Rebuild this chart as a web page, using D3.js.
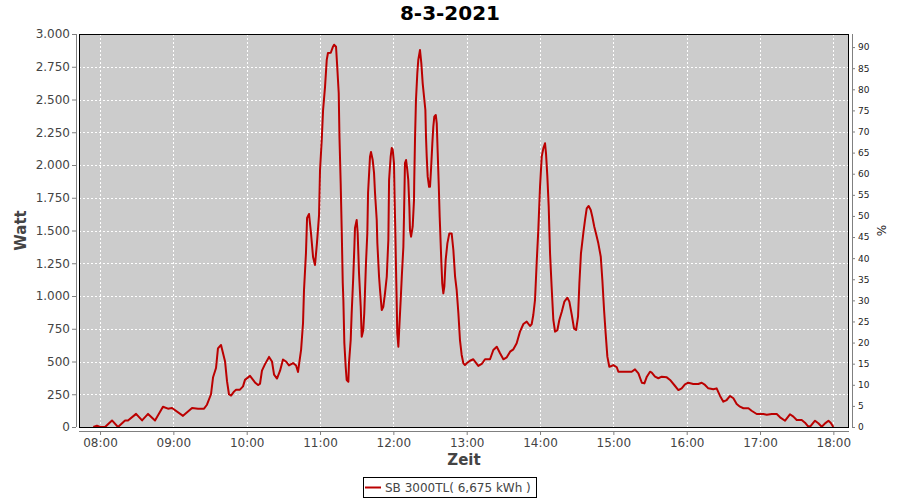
<!DOCTYPE html>
<html>
<head>
<meta charset="utf-8">
<script src="https://cdn.jsdelivr.net/npm/d3@7"></script>
<style>
  html, body { margin: 0; padding: 0; background: #fff; }
  svg { display: block; font-family: "DejaVu Sans", sans-serif; }
</style>
</head>
<body>
<svg id="chart" width="900" height="500"></svg>
<script>
// ---- data ----
const title = "8-3-2021";
const seriesName = "SB 3000TL( 6,675 kWh )";
const baseHour = 8; // times are minutes after 08:00
const timeMinutes = [
  -5.5, -2.5, 0, 4.1, 9.8, 14.7, 20.5, 22.9, 29.5, 34.4, 39.3, 45, 51.5, 55.6, 58.9, 67.9, 75.3, 80.2, 85.1, 87.5,
  90.8, 92.5, 94.9, 96.5, 99, 102.3, 103.9, 105.5, 107.2, 109.6, 111.3, 114.5, 117, 118.6, 122.7, 126.8, 129.3, 130.9, 132.5, 135,
  138.3, 140.7, 142.4, 144.8, 147.3, 149.7, 152.2, 154.6, 157.9, 160.4, 162, 164.5, 166.1, 166.9, 168.5, 169.4, 171, 172.6, 174.3, 175.9,
  177.5, 179.2, 180, 181.4, 182.5, 184.1, 185.5, 186.5, 188.8, 190.6, 191.5, 193.1, 193.9, 195.3, 195.9, 196.9, 197.8, 198.6, 199.1, 199.9,
  201, 201.8, 203.2, 203.7, 205.1, 205.9, 207.2, 208.1, 208.6, 210, 210.8, 211.9, 213.3, 214.1, 215.4, 216.2, 217.6, 218.7, 219.3, 220.9,
  221.7, 223.1, 224.2, 225, 226.4, 226.9, 228.3, 229.1, 230.5, 231.8, 233.2, 234.6, 235.9, 236.5, 237.8, 238.7, 239.5, 240.5, 241.1, 241.6,
  242.2, 242.7, 243.2, 244.1, 244.9, 246, 246.9, 248.2, 248.7, 249.5, 250.4, 251.4, 252.2, 253.1, 253.6, 254.5, 255.8, 256.9, 257.1, 257.7,
  258.5, 259.6, 260.4, 261.8, 262.9, 264, 265.1, 266.2, 266.7, 267.3, 268.1, 269.2, 270, 270.8, 271.9, 272.7, 273.5, 274.7, 275.5, 276.3,
  277.1, 277.9, 278.4, 279.2, 280, 280.9, 281.7, 282.8, 284.2, 285.8, 287.7, 289.1, 290.5, 291.8, 293.2, 294.5, 295.9, 297.3, 298.6, 300,
  302.7, 305.4, 309.5, 312.3, 315, 319.1, 321.8, 324.6, 327.3, 330, 332.8, 335.5, 338.2, 340.9, 343.6, 346.4, 349.1, 351.8, 353.2, 354.5,
  355.9, 357.3, 358.6, 360, 361.4, 362.7, 364.1, 364.9, 366, 367.1, 368.2, 369.5, 370.9, 372.3, 374.2, 375.8, 377.8, 379.9, 382.4, 384,
  386, 387.8, 389.5, 391.1, 392.2, 393.5, 395.4, 396.8, 398.2, 399.8, 401.5, 402.8, 404.4, 405.8, 407.7, 409.7, 411, 412.4, 413.7, 415.1,
  416.7, 418.6, 420, 422.8, 424.1, 435, 437.7, 440.5, 443.3, 445.4, 447.4, 450, 451.4, 454.1, 456.8, 459.6, 463.7, 466.4, 470.5, 473.2,
  475.9, 478.6, 481.3, 485.4, 489.5, 492.3, 495, 497.7, 501.8, 504.5, 507.3, 510, 512.7, 515.5, 518.2, 520.9, 523.6, 526.4, 530.5, 533.1,
  537.3, 542.7, 545.5, 549.6, 553.7, 556.4, 560.5, 564.5, 567.3, 570, 574.1, 576.8, 579.5, 581.5, 585, 587.7, 590.5, 593.2, 596, 597.8,
  600
];
const watt = [
  0, 10, 0, 0, 50, 0, 50, 50, 100, 50, 100, 50, 155, 140, 145, 85, 145, 140, 140, 170,
  250, 380, 450, 600, 626, 500, 350, 250, 240, 270, 285, 285, 310, 360, 390, 340, 320, 330, 430, 480,
  535, 500, 400, 370, 430, 515, 500, 470, 488, 470, 420, 588, 794, 1046, 1328, 1595, 1626, 1481, 1298, 1237,
  1405, 1618, 1962, 2191, 2420, 2596, 2802, 2855, 2857, 2903, 2918, 2903, 2779, 2550, 2216, 1863, 1480, 1099, 970, 641,
  460, 359, 346, 488, 664, 870, 1147, 1376, 1519, 1580, 1481, 1176, 918, 689, 740, 870, 1252, 1481, 1786, 2064,
  2100, 2038, 1939, 1786, 1580, 1405, 1147, 1046, 893, 918, 1023, 1147, 1428, 1886, 2064, 2130, 2115, 2015, 1710, 1504,
  1198, 970, 718, 613, 766, 970, 1147, 1376, 1605, 2015, 2038, 1962, 1886, 1682, 1504, 1453, 1529, 1733, 1886, 2191,
  2496, 2700, 2802, 2878, 2776, 2623, 2521, 2420, 2216, 2064, 1911, 1834, 1834, 1962, 2165, 2293, 2369, 2382, 2318, 2089,
  1860, 1605, 1481, 1275, 1097, 1020, 1071, 1275, 1402, 1478, 1478, 1351, 1147, 1046, 868, 664, 550, 486, 473, 486,
  506, 517, 466, 481, 517, 517, 588, 613, 563, 517, 532, 575, 593, 639, 728, 786, 804, 771, 786, 855,
  970, 1262, 1504, 1834, 2064, 2127, 2166, 2089, 1911, 1682, 1326, 1071, 817, 728, 740, 817, 880, 957, 987, 957,
  855, 753, 740, 842, 1097, 1326, 1478, 1580, 1669, 1687, 1657, 1605, 1529, 1478, 1402, 1300, 1122, 893, 715, 537,
  460, 466, 473, 456, 422, 422, 440, 410, 338, 333, 384, 422, 415, 384, 372, 384, 379, 359, 313, 282,
  295, 326, 338, 328, 328, 338, 321, 295, 288, 295, 237, 193, 206, 237, 219, 176, 155, 143, 143, 124,
  99, 99, 94, 99, 99, 74, 48, 97, 79, 53, 53, 33, 2, 8, 48, 28, 2, 28, 48, 33,
  0
];
const xTickMinutes = [0, 60, 120, 180, 240, 300, 360, 420, 480, 540, 600];
const yTicksLeft = [0, 250, 500, 750, 1000, 1250, 1500, 1750, 2000, 2250, 2500, 2750, 3000];
const yTicksRight = [0, 5, 10, 15, 20, 25, 30, 35, 40, 45, 50, 55, 60, 65, 70, 75, 80, 85, 90];
const xDomain = [-17.2, 612.8];
const yDomainLeft = [0, 3000];
const yDomainRight = [0, 93.1];
const xLabel = "Zeit", yLabelLeft = "Watt", yLabelRight = "%";

// ---- layout ----
const svg = d3.select("#chart");
const P = { left: 79, right: 849, top: 34, bottom: 427 };
const x = d3.scaleLinear().domain(xDomain).range([P.left, P.right]);
const y = d3.scaleLinear().domain(yDomainLeft).range([P.bottom, P.top]);
const yR = d3.scaleLinear().domain(yDomainRight).range([P.bottom, P.top]);
const fmtTime = m => { const h = baseHour + Math.floor(m / 60), mm = m % 60; return String(h).padStart(2, "0") + ":" + String(mm).padStart(2, "0"); };
const fmtWatt = v => d3.format(",")(v).replace(/,/g, ".");

// title
svg.append("text").attr("x", 450).attr("y", 20).attr("text-anchor", "middle")
  .attr("font-size", 20).attr("font-weight", "bold").attr("fill", "#000").text(title);

// plot background
svg.append("rect").attr("x", P.left).attr("y", P.top).attr("width", P.right - P.left).attr("height", P.bottom - P.top)
  .attr("fill", "#cccccc");

// gridlines
const grid = svg.append("g").attr("stroke", "#fff").attr("stroke-width", 1).attr("stroke-dasharray", "2,2").attr("shape-rendering", "crispEdges");
grid.selectAll(".gx").data(xTickMinutes).join("line")
  .attr("x1", d => Math.round(x(d)) + 0.5).attr("x2", d => Math.round(x(d)) + 0.5)
  .attr("y1", P.top).attr("y2", P.bottom);
grid.selectAll(".gy").data(yTicksLeft).join("line")
  .attr("y1", d => Math.round(y(d)) + 0.5).attr("y2", d => Math.round(y(d)) + 0.5)
  .attr("x1", P.left).attr("x2", P.right);

// line
const pts = timeMinutes.map((t, i) => [t, watt[i]]);
const line = d3.line().x(d => x(d[0])).y(d => y(d[1]));
svg.append("path").datum(pts).attr("d", line).attr("fill", "none")
  .attr("stroke", "#bb0000").attr("stroke-width", 2).attr("stroke-linejoin", "round");

// plot border
svg.append("rect").attr("x", P.left + 0.5).attr("y", P.top + 0.5).attr("width", P.right - P.left - 1).attr("height", P.bottom - P.top)
  .attr("fill", "none").attr("stroke", "#000").attr("stroke-width", 1).attr("shape-rendering", "crispEdges");

// axes
const axisColor = "#808080", labelColor = "#444";
const gL = svg.append("g").attr("transform", "translate(76,0)")
  .call(d3.axisLeft(y).tickValues(yTicksLeft).tickFormat(fmtWatt).tickSize(4).tickPadding(2));
const gB = svg.append("g").attr("transform", "translate(0,431)")
  .call(d3.axisBottom(x).tickValues(xTickMinutes).tickFormat(fmtTime).tickSize(4).tickPadding(2));
const gR = svg.append("g").attr("transform", "translate(852,0)")
  .call(d3.axisRight(yR).tickValues(yTicksRight).tickFormat(d3.format("d")).tickSize(3).tickPadding(3));
[gL, gB].forEach(g => {
  g.select(".domain").attr("stroke", axisColor).attr("d", null);
  g.selectAll(".tick line").attr("stroke", axisColor);
  g.selectAll(".tick text").attr("fill", labelColor).attr("font-size", 12).attr("font-family", "DejaVu Sans");
});
gL.select(".domain").remove();
gL.append("line").attr("x1", 0.5).attr("x2", 0.5).attr("y1", P.top).attr("y2", P.bottom).attr("stroke", axisColor);
gB.select(".domain").remove();
gB.append("line").attr("x1", P.left).attr("x2", P.right).attr("y1", 0.5).attr("y2", 0.5).attr("stroke", axisColor);
gB.selectAll(".tick text").attr("dy", "0.85em");
gR.select(".domain").remove();
gR.append("line").attr("x1", 0.5).attr("x2", 0.5).attr("y1", P.top).attr("y2", P.bottom).attr("stroke", axisColor);
gR.selectAll(".tick line").attr("stroke", axisColor);
gR.selectAll(".tick text").attr("fill", "#222").attr("font-size", 9).attr("font-family", "DejaVu Sans");

// axis labels
svg.append("text").attr("x", (P.left + P.right) / 2).attr("y", 465).attr("text-anchor", "middle")
  .attr("font-size", 15).attr("font-weight", "bold").attr("fill", labelColor).text(xLabel);
svg.append("text").attr("transform", `translate(26,${(P.top + P.bottom) / 2}) rotate(-90)`).attr("text-anchor", "middle")
  .attr("font-size", 15).attr("font-weight", "bold").attr("fill", labelColor).text(yLabelLeft);
svg.append("text").attr("transform", `translate(886,${(P.top + P.bottom) / 2}) rotate(-90)`).attr("text-anchor", "middle")
  .attr("font-size", 12).attr("fill", "#222").text(yLabelRight);

// legend
const lg = svg.append("g");
lg.append("rect").attr("x", 363.5).attr("y", 477.5).attr("width", 173).attr("height", 20)
  .attr("fill", "#fff").attr("stroke", "#000").attr("stroke-width", 1);
lg.append("line").attr("x1", 365).attr("x2", 381).attr("y1", 487.5).attr("y2", 487.5)
  .attr("stroke", "#bb0000").attr("stroke-width", 2);
lg.append("text").attr("x", 385).attr("y", 492).attr("font-size", 12).attr("fill", labelColor).text(seriesName);
</script>
</body>
</html>
